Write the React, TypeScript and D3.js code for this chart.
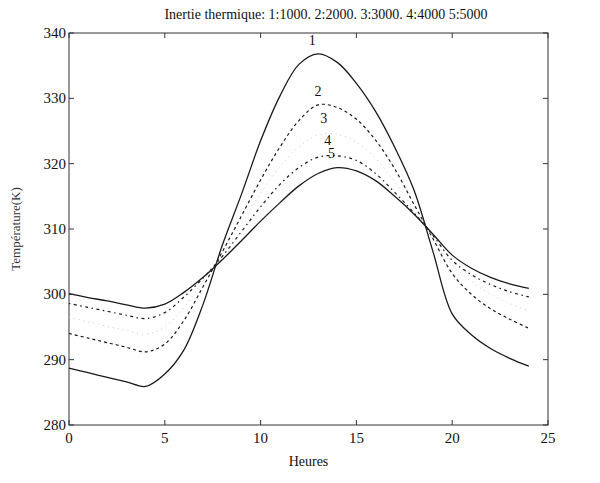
import * as d3 from 'd3';

// hours 0..24
const hours = d3.range(0, 25);

// surface temperature (K), one array per thermal inertia
const inertia1000 = [288.7, 288.0, 287.3, 286.6, 285.9, 287.8, 291.5, 298.5, 307.5, 315.3, 323.5, 330.3, 335.2, 336.8, 335.5, 332.3, 328.0, 322.5, 316.0, 306.5, 297.0, 293.8, 291.7, 290.2, 289.0];
const inertia2000 = [294.0, 293.3, 292.6, 291.9, 291.2, 292.4, 296.0, 301.2, 306.5, 312.0, 317.5, 322.5, 326.6, 329.0, 328.6, 326.8, 323.6, 319.2, 313.8, 308.5, 303.2, 300.0, 297.8, 296.2, 294.8];
const inertia3000 = [296.5, 295.8, 295.1, 294.5, 293.9, 295.0, 298.0, 302.0, 306.0, 310.8, 315.5, 319.5, 322.6, 324.4, 324.5, 323.3, 320.8, 317.2, 313.0, 308.8, 304.5, 302.0, 300.0, 298.6, 297.5];
const inertia4000 = [298.6, 298.0, 297.4, 296.8, 296.3, 297.2, 299.6, 302.5, 305.8, 309.6, 313.4, 316.8, 319.4, 321.0, 321.2, 320.5, 318.5, 315.6, 312.5, 309.0, 305.2, 303.0, 301.5, 300.4, 299.6];
const inertia5000 = [300.1, 299.5, 299.0, 298.4, 297.9, 298.5, 300.3, 302.6, 305.3, 308.2, 311.2, 314.0, 316.6, 318.5, 319.4, 318.9, 317.4, 315.0, 312.3, 309.2, 306.0, 304.0, 302.6, 301.6, 300.9];

const curveNames = ['1', '2', '3', '4', '5'];
// where the number sits next to each curve (hour, K)
const labelHours = [12.7, 13.0, 13.3, 13.5, 13.7];
const labelTemps = [338.2, 330.4, 326.2, 322.8, 320.8];

const xTicks = [0, 5, 10, 15, 20, 25];
const yTicks = [280, 290, 300, 310, 320, 330, 340];

const title = 'Inertie thermique: 1:1000. 2:2000. 3:3000. 4:4000 5:5000';

export default function App() {
  const width = 600;
  const height = 483;
  const margin = { top: 33, right: 52, bottom: 58, left: 69 };

  const x = d3.scaleLinear().domain([0, 25]).range([margin.left, width - margin.right]);
  const y = d3.scaleLinear().domain([280, 340]).range([height - margin.bottom, margin.top]);

  const line = d3.line<number>()
    .x((d, i) => x(hours[i]))
    .y((d) => y(d))
    .curve(d3.curveCatmullRom.alpha(0.5));

  const series = [
    { values: inertia1000, dash: null, color: '#1a1a1a', w: 1.3 },
    { values: inertia2000, dash: '3,3', color: '#1a1a1a', w: 1.2 },
    { values: inertia3000, dash: '1,4', color: '#c8c8c8', w: 1 },
    { values: inertia4000, dash: '1.5,3.5,3,3.5', color: '#1a1a1a', w: 1.2 },
    { values: inertia5000, dash: null, color: '#1a1a1a', w: 1.3 },
  ];

  const font = '"Liberation Serif", "DejaVu Serif", serif';
  const x0 = x(0), x1 = x(25), y0 = y(280), y1 = y(340);

  return (
    <svg width={width} height={height} style={{ position: 'absolute', left: 0, top: 0, background: '#fff' }}
      fontFamily={font}>
      {/* box */}
      <rect x={x0} y={y1} width={x1 - x0} height={y0 - y1} fill="none" stroke="#333" strokeWidth={1} />

      {xTicks.map((t) => (
        <g key={'x' + t}>
          <line x1={x(t)} x2={x(t)} y1={y0} y2={y0 - 5} stroke="#333" />
          <line x1={x(t)} x2={x(t)} y1={y1} y2={y1 + 5} stroke="#333" />
          <text x={x(t)} y={y0 + 18} textAnchor="middle" fontSize={15} fill="#111">{t}</text>
        </g>
      ))}
      {yTicks.map((t) => (
        <g key={'y' + t}>
          <line x1={x0} x2={x0 + 5} y1={y(t)} y2={y(t)} stroke="#333" />
          <line x1={x1} x2={x1 - 5} y1={y(t)} y2={y(t)} stroke="#333" />
          <text x={x0 - 3} y={y(t) + 5} textAnchor="end" fontSize={15} fill="#111">{t}</text>
        </g>
      ))}

      {series.map((s, i) => (
        <path key={i} d={line(s.values) || ''} fill="none" stroke={s.color} strokeWidth={s.w}
          strokeDasharray={s.dash || undefined} />
      ))}

      {curveNames.map((n, i) => (
        <text key={'l' + n} x={x(labelHours[i])} y={y(labelTemps[i])} textAnchor="middle" fontSize={14} fill="#111">{n}</text>
      ))}

      <text x={326} y={19} textAnchor="middle" fontSize={14} fill="#111">{title}</text>
      <text x={(x0 + x1) / 2} y={466} textAnchor="middle" fontSize={14} fill="#111">Heures</text>
      <text transform={`translate(20,${(y0 + y1) / 2}) rotate(-90)`} textAnchor="middle" fontSize={13} fill="#333">Température(K)</text>
    </svg>
  );
}
